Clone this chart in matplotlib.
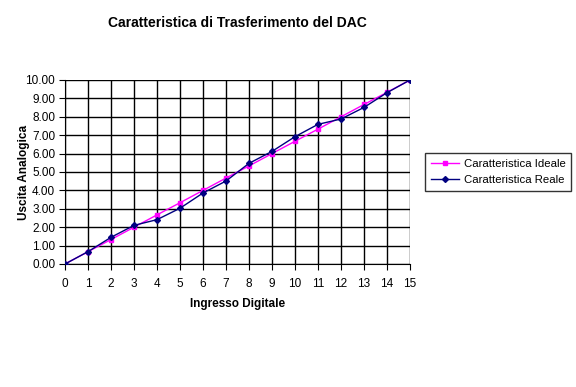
import matplotlib
matplotlib.use("Agg")
import matplotlib.pyplot as plt
from matplotlib.ticker import FormatStrFormatter

plt.rcParams['font.family'] = ['Liberation Sans', 'DejaVu Sans']

codes = list(range(16))
ideal = [0.00, 0.67, 1.33, 2.00, 2.67, 3.33, 4.00, 4.67, 5.33, 6.00, 6.67, 7.33, 8.00, 8.67, 9.33, 10.00]
real = [0.00, 0.67, 1.45, 2.10, 2.41, 3.03, 3.86, 4.51, 5.47, 6.12, 6.92, 7.59, 7.88, 8.51, 9.31, 10.00]
yticks = [0, 1, 2, 3, 4, 5, 6, 7, 8, 9, 10]

fig = plt.figure(figsize=(5.76, 3.87), dpi=100)
ax = fig.add_axes([65/576, 1-264/387, 345/576, 184/387])

ax.plot(codes, ideal, color='#FF00FF', lw=1, marker='s', ms=3, label='Caratteristica Ideale', zorder=3)
ax.plot(codes, real, color='#000080', lw=1, marker='D', ms=3, label='Caratteristica Reale', zorder=4)

ax.set_xlim(0, 15)
ax.set_ylim(0, 10)
ax.set_xticks(codes)
ax.set_yticks(yticks)
ax.yaxis.set_major_formatter(FormatStrFormatter('%.2f'))
ax.grid(True, color='black', lw=1)
ax.set_axisbelow(True)
for s in ['top', 'right']:
    ax.spines[s].set_visible(False)
for s in ['left', 'bottom']:
    ax.spines[s].set_color('black')
ax.tick_params(axis='both', labelsize=8.5, length=4, color='black', direction='out')
ax.tick_params(axis='x', pad=6)
ax.tick_params(axis='y', pad=3)

ax.set_title('Caratteristica di Trasferimento del DAC', fontsize=10, fontweight='bold', pad=38)
ax.set_xlabel('Ingresso Digitale', fontsize=8.5, fontweight='bold')
ax.set_ylabel('Uscita Analogica', fontsize=8.5, fontweight='bold')
ax.xaxis.set_label_coords(0.5, -0.185)
ax.yaxis.set_label_coords(-0.102, 0.5)

leg = ax.legend(loc='center left', bbox_to_anchor=(360/345, 0.5), fontsize=8.2,
                frameon=True, fancybox=False, edgecolor='black', borderpad=0.5,
                handlelength=2.5, handletextpad=0.4, labelspacing=0.5, borderaxespad=0)
leg.get_frame().set_linewidth(1)

fig.savefig('out.png', dpi=100)
